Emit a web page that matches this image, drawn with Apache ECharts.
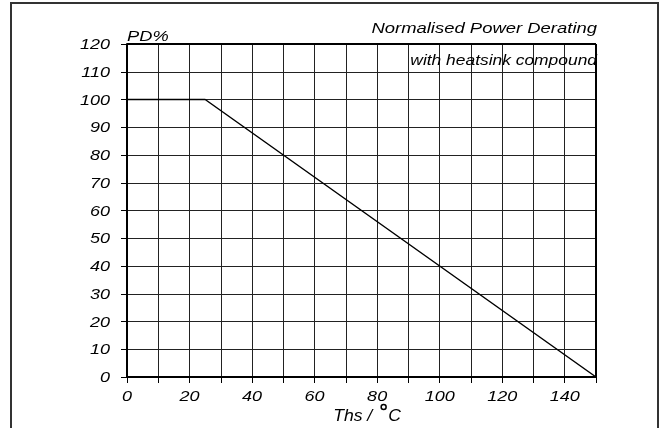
<!DOCTYPE html>
<html><head><meta charset="utf-8">
<script src="https://cdn.jsdelivr.net/npm/echarts@6/dist/echarts.min.js"></script>
<style>html,body{margin:0;padding:0;background:#fff}#c{width:667px;height:428px}</style>
</head><body><div id="c"></div>
<script>
var temps = [0, 25, 150];
var derating = [100, 100, 0];
var xTicks = [0, 20, 40, 60, 80, 100, 120, 140];
var yTicks = [0, 10, 20, 30, 40, 50, 60, 70, 80, 90, 100, 110, 120];
var titleText = 'Normalised Power Derating';
var subText = 'with heatsink compound';
var yName = 'PD%';
var xName = 'Ths /';
var xUnit = 'C';

var FF = 'Liberation Sans, Arial, Helvetica, sans-serif';
var chart = echarts.init(document.getElementById('c'), null, {renderer: 'canvas'});
chart.setOption({
  animation: false,
  grid: {left: 127, top: 44, right: 71, bottom: 51},
  xAxis: {
    type: 'value', min: 0, max: 150, interval: 10,
    axisLine: {show: true, lineStyle: {color: '#000', width: 2}},
    axisTick: {show: true, length: 6, lineStyle: {color: '#000'}},
    axisLabel: {show: false},
    splitLine: {show: true, lineStyle: {color: '#222', width: 1}}
  },
  yAxis: {
    type: 'value', min: 0, max: 120, interval: 10,
    axisLine: {show: true, lineStyle: {color: '#000', width: 2}},
    axisTick: {show: true, length: 6, lineStyle: {color: '#000'}},
    axisLabel: {show: false},
    splitLine: {show: true, lineStyle: {color: '#222', width: 1}}
  },
  series: [{
    type: 'line', symbol: 'none',
    data: temps.map(function (t, i) { return [t, derating[i]]; }),
    lineStyle: {color: '#000', width: 1.5}
  }]
});

function txt(x, y, s, size, align, sx) {
  return {type: 'text', x: x, y: y, scaleX: sx, z: 20, silent: true,
    style: {text: s, fontSize: size, fontFamily: FF, fontStyle: 'italic', fill: '#000',
      align: align, verticalAlign: 'middle'}};
}
var g = [
  {type: 'rect', shape: {x: 11, y: 3, width: 647, height: 440}, style: {fill: 'none', stroke: '#333', lineWidth: 2}, silent: true},
  {type: 'line', shape: {x1: 127, y1: 44, x2: 596, y2: 44}, style: {stroke: '#000', lineWidth: 2}, z: 10},
  {type: 'line', shape: {x1: 596, y1: 44, x2: 596, y2: 377}, style: {stroke: '#000', lineWidth: 2}, z: 10}
];
yTicks.forEach(function (v) {
  var p = chart.convertToPixel({gridIndex: 0}, [0, v]);
  g.push(txt(p[0] - 17, p[1] + 1, String(v), 15, 'right', 1.2));
});
xTicks.forEach(function (v) {
  var p = chart.convertToPixel({gridIndex: 0}, [v, 0]);
  g.push(txt(p[0], p[1] + 20, String(v), 15, 'center', 1.2));
});
var tl = chart.convertToPixel({gridIndex: 0}, [0, 120]);
var tr = chart.convertToPixel({gridIndex: 0}, [150, 120]);
var x80 = chart.convertToPixel({gridIndex: 0}, [80, 0]);
g.push(txt(tr[0] + 1, tr[1] - 15.5, titleText, 15, 'right', 1.23));
g.push(txt(tr[0] + 1, tr[1] + 17, subText, 14.5, 'left', 1.2));
g[g.length - 1].style.align = 'right';
g.push(txt(tl[0], tl[1] - 7, yName, 15.5, 'left', 1.18));
g.push(txt(x80[0] - 44, x80[1] + 40, xName, 16, 'left', 1.1));
g.push(txt(x80[0] + 11, x80[1] + 40, xUnit, 16, 'left', 1.1));
g.push({type: 'circle', z: 20, shape: {cx: x80[0] + 6.5, cy: x80[1] + 30, r: 2.5}, style: {fill: 'none', stroke: '#000', lineWidth: 1.5}});
chart.setOption({graphic: g});
</script></body></html>
